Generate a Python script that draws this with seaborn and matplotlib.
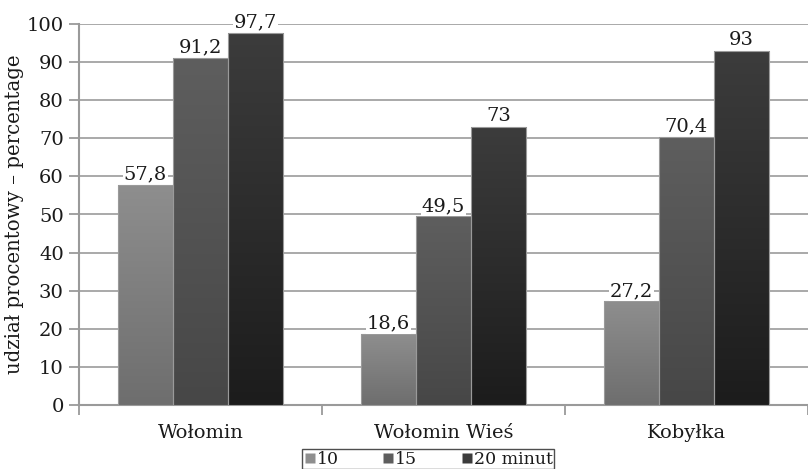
import numpy as np
import pandas as pd
import matplotlib
matplotlib.use("Agg")
import matplotlib.pyplot as plt
from matplotlib.colors import LinearSegmentedColormap
from matplotlib.lines import Line2D
import seaborn as sns

# Data
places = ["Wołomin", "Wołomin Wieś", "Kobyłka"]
times = ["10", "15", "20 minut"]
v10 = [57.8, 18.6, 27.2]
v15 = [91.2, 49.5, 70.4]
v20 = [97.7, 73.0, 93.0]
yticks = list(range(0, 101, 10))

df = pd.DataFrame({
    "miejsce": places * 3,
    "czas": [t for t in times for _ in places],
    "udzial": v10 + v15 + v20,
})

sns.set_theme(style="white")
plt.rcParams["font.family"] = ["DejaVu Serif"]

# gradient end colours (top, bottom) for each series
grads = {
    "10": ("#8e8e8e", "#6e6e6e"),
    "15": ("#5e5e5e", "#474747"),
    "20 minut": ("#3c3c3c", "#1c1c1c"),
}
flat = {k: v[0] for k, v in grads.items()}

fig = plt.figure(figsize=(8.08, 4.69), dpi=100)
ax = fig.add_axes([79 / 808, 64 / 469, 1 - 79 / 808, (405 - 24) / 469])

sns.barplot(data=df, x="miejsce", y="udzial", hue="czas", order=places,
            hue_order=times, palette=flat, width=0.68, saturation=1,
            edgecolor="none", linewidth=0, legend=False, ax=ax, zorder=3)

ax.yaxis.grid(True, color="#a9a9a9", linewidth=1.4, zorder=0)
ax.set_axisbelow(True)

# vertical gradient fill on every bar
for cont, t in zip(ax.containers, times):
    cmap = LinearSegmentedColormap.from_list(t, [grads[t][1], grads[t][0]])
    for bar in cont:
        x0, y0 = bar.get_x(), bar.get_y()
        w, h = bar.get_width(), bar.get_height()
        img = ax.imshow(np.linspace(0, 1, 100).reshape(-1, 1), cmap=cmap,
                        extent=[x0, x0 + w, y0, y0 + h], origin="lower",
                        aspect="auto", zorder=3.5, interpolation="bilinear")
        img.set_clip_path(bar)
        ax.add_patch(plt.Rectangle((x0, y0), w, h, fill=False,
                                   edgecolor="#9a9a9a", lw=0.8, zorder=3.6))
    labels = [f"{v:g}".replace(".", ",") for v in cont.datavalues]
    ax.bar_label(cont, labels=labels, padding=1, fontsize=14, color="#1a1a1a",
                 bbox=dict(facecolor="white", edgecolor="none", pad=0.5),
                 zorder=5)

ax.set_xlim(-0.5, 2.5)
ax.set_ylim(0, 100)
ax.set_yticks(yticks)

for s in ["top", "right"]:
    ax.spines[s].set_visible(False)
for s in ["left", "bottom"]:
    ax.spines[s].set_color("#9a9a9a")
    ax.spines[s].set_linewidth(1.5)

ax.tick_params(axis="y", left=True, length=7, width=1.3, color="#9a9a9a",
               labelsize=14, labelcolor="#1a1a1a", pad=4)
ax.set_xticks([0, 1, 2])
ax.set_xticklabels(places)
ax.set_xticks([-0.5, 0.5, 1.5, 2.5], minor=True)
ax.tick_params(axis="x", which="major", bottom=False, labelsize=14,
               labelcolor="#1a1a1a", pad=8)
ax.tick_params(axis="x", which="minor", bottom=True, length=7, width=1.3,
               color="#9a9a9a")
ax.set_xlabel("")
ax.set_ylabel("udział procentowy – percentage", fontsize=14.2,
              color="#1a1a1a", labelpad=2)

handles = [Line2D([], [], marker="s", linestyle="none", markersize=7,
                  markerfacecolor=grads[t][0], markeredgecolor="none")
           for t in times]
leg = fig.legend(handles, times, loc="upper left", ncol=3,
                 bbox_to_anchor=(302 / 808, 1 - 449 / 469), fontsize=12.5,
                 frameon=True, fancybox=False, edgecolor="#222222",
                 handletextpad=0.05, columnspacing=2.5, handlelength=0.7,
                 borderpad=0.1, borderaxespad=0, labelcolor="#1a1a1a")
leg.get_frame().set_linewidth(1.0)

fig.savefig("out.png", dpi=100)
